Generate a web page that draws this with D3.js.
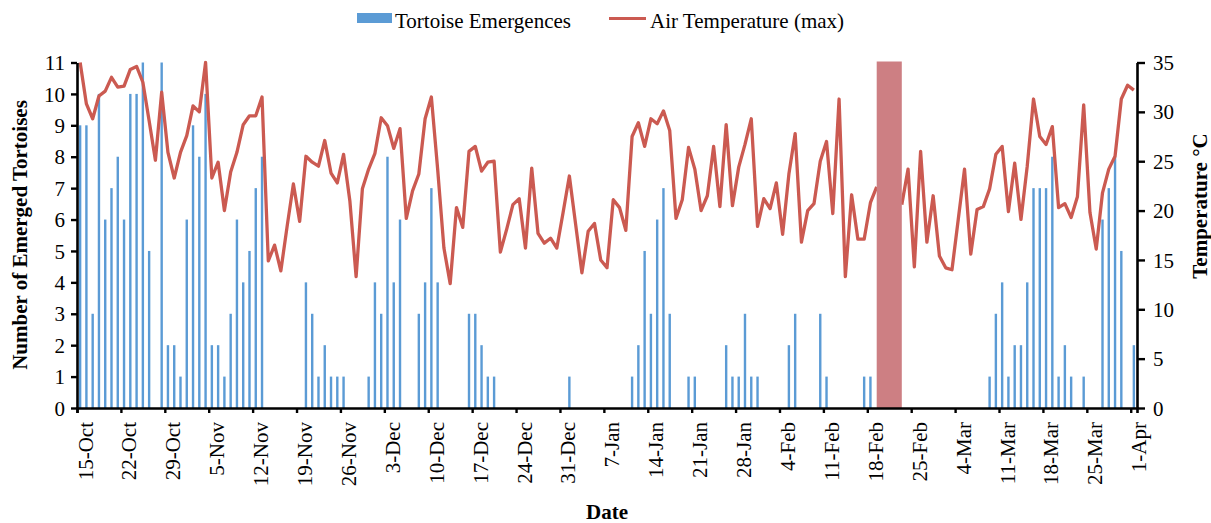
<!DOCTYPE html>
<html>
<head>
<meta charset="utf-8">
<script src="https://cdn.jsdelivr.net/npm/d3@7"></script>
<style>
  html, body { margin: 0; padding: 0; background: #fff; }
  svg { display: block; }
  text { font-family: "Liberation Serif", "Times New Roman", serif; fill: #000; }
</style>
</head>
<body>
<svg id="chart" width="1211" height="523"></svg>
<script>
// ---------------- DATA ----------------
const startDate = "2013-10-15";
const endDate = "2014-04-01";

// Daily number of emerged tortoises (15-Oct .. 1-Apr)
const emergences = [
  9, 9, 3, 10, 6, 7, 8, 6, 10, 10, 11, 5, 0, 11, 2, 2, 1, 6, 9, 8,
  10, 2, 2, 1, 3, 6, 4, 5, 7, 8, 0, 0, 0, 0, 0, 0, 4, 3, 1, 2,
  1, 1, 1, 0, 0, 0, 1, 4, 3, 8, 4, 6, 0, 0, 3, 4, 7, 4, 0, 0,
  0, 0, 3, 3, 2, 1, 1, 0, 0, 0, 0, 0, 0, 0, 0, 0, 0, 0, 1, 0,
  0, 0, 0, 0, 0, 0, 0, 0, 1, 2, 5, 3, 6, 7, 3, 0, 0, 1, 1, 0,
  0, 0, 0, 2, 1, 1, 3, 1, 1, 0, 0, 0, 0, 2, 3, 0, 0, 0, 3, 1,
  0, 0, 0, 0, 0, 1, 1, 0, 0, 0, 0, 0, 0, 0, 0, 0, 0, 0, 0, 0,
  0, 0, 0, 0, 0, 1, 3, 4, 1, 2, 2, 4, 7, 7, 7, 8, 1, 2, 1, 0,
  1, 0, 0, 6, 7, 8, 5, 0, 2
];

// Daily maximum air temperature (°C); null = not visible (hidden by shaded period)
const airTempMax = [
  35.0, 30.8, 29.3, 31.6, 32.1, 33.5, 32.5, 32.6, 34.3, 34.6,
  33.0, 29.1, 25.1, 32.0, 25.9, 23.3, 25.9, 27.6, 30.6, 30.0,
  35.0, 23.3, 24.9, 20.0, 23.9, 25.9, 28.7, 29.6, 29.6, 31.5,
  14.9, 16.5, 13.9, 18.4, 22.7, 18.9, 25.5, 24.9, 24.5, 27.1,
  23.8, 22.8, 25.7, 21.0, 13.3, 22.2, 24.2, 25.8, 29.4, 28.6,
  26.3, 28.3, 19.2, 22.0, 23.7, 29.3, 31.5, 24.2, 16.2, 12.6,
  20.3, 18.3, 26.0, 26.5, 24.0, 24.9, 25.0, 15.8, 18.1, 20.6,
  21.2, 16.2, 24.3, 17.7, 16.7, 17.2, 16.2, 19.8, 23.5, 18.6,
  13.7, 17.9, 18.7, 15.0, 14.2, 21.1, 20.3, 18.0, 27.5, 28.9,
  26.5, 29.3, 28.8, 30.1, 28.1, 19.2, 21.1, 26.4, 24.2, 20.0,
  21.5, 26.5, 20.4, 28.7, 20.5, 24.4, 26.7, 29.3, 18.4, 21.2,
  20.2, 22.8, 17.6, 23.7, 27.8, 16.8, 20.0, 20.7, 25.0, 27.0,
  19.7, 31.3, 13.3, 21.6, 17.1, 17.1, 20.8, 22.4, null, null,
  null, 20.6, 24.2, 14.3, 26.0, 16.8, 21.5, 15.4, 14.2, 14.0,
  19.1, 24.2, 15.6, 20.1, 20.4, 22.2, 25.7, 26.5, 19.9, 24.8,
  19.1, 24.5, 31.3, 27.5, 26.7, 28.5, 20.3, 20.7, 19.3, 21.4,
  30.7, 19.8, 16.1, 21.8, 24.2, 25.5, 31.3, 32.7, 32.2
];

const tickLabels = [
  "15-Oct", "22-Oct", "29-Oct", "5-Nov", "12-Nov", "19-Nov", "26-Nov",
  "3-Dec", "10-Dec", "17-Dec", "24-Dec", "31-Dec", "7-Jan", "14-Jan",
  "21-Jan", "28-Jan", "4-Feb", "11-Feb", "18-Feb", "25-Feb", "4-Mar",
  "11-Mar", "18-Mar", "25-Mar", "1-Apr"
];

const leftTicks = [0, 1, 2, 3, 4, 5, 6, 7, 8, 9, 10, 11];
const rightTicks = [0, 5, 10, 15, 20, 25, 30, 35];

// Shaded period (first and last day)
const shadedPeriod = ["2014-02-19", "2014-02-23"];

const seriesNames = ["Tortoise Emergences", "Air Temperature (max)"];

// ---------------- CHART ----------------
const parse = d3.utcParse("%Y-%m-%d");
const t0 = parse(startDate);
const t1 = parse(endDate);
const days = d3.utcDay.range(t0, d3.utcDay.offset(t1, 1));
const rows = days.map((d, i) => ({ date: d, n: emergences[i], temp: airTempMax[i] }));

const W = 1211, H = 523;
const plot = { left: 77, right: 1137, top: 62.5, bottom: 408 };

const colBar = "#5B9BD5";
const colLine = "#CB5A51";
const colShade = "#CD7F83";

const svg = d3.select("#chart");

const x = d3.scaleUtc()
  .domain([t0, d3.utcDay.offset(t1, 1)])
  .range([plot.left, plot.right]);
const dayW = x(d3.utcDay.offset(t0, 1)) - x(t0);
const xc = d => x(d) + dayW / 2;

const yL = d3.scaleLinear().domain([0, 11]).range([plot.bottom, plot.top]);
const yR = d3.scaleLinear().domain([0, 35]).range([plot.bottom, plot.top]);

// clip
svg.append("defs").append("clipPath").attr("id", "clip")
  .append("rect")
  .attr("x", plot.left).attr("y", plot.top - 2)
  .attr("width", plot.right - plot.left).attr("height", plot.bottom - plot.top + 2);

// bars
const barW = 2.4;
svg.append("g")
  .selectAll("rect")
  .data(rows.filter(r => r.n > 0))
  .join("rect")
  .attr("x", r => xc(r.date) - barW / 2)
  .attr("y", r => yL(r.n))
  .attr("width", barW)
  .attr("height", r => yL(0) - yL(r.n))
  .attr("fill", colBar);

// line
const line = d3.line()
  .defined(r => r.temp !== null)
  .x(r => xc(r.date))
  .y(r => yR(r.temp));
svg.append("path")
  .datum(rows)
  .attr("clip-path", "url(#clip)")
  .attr("d", line)
  .attr("fill", "none")
  .attr("stroke", colLine)
  .attr("stroke-width", 3.3)
  .attr("stroke-linejoin", "round");

// shaded period
const s0 = parse(shadedPeriod[0]), s1 = parse(shadedPeriod[1]);
svg.append("rect")
  .attr("x", xc(s0))
  .attr("y", plot.top - 1)
  .attr("width", xc(s1) - xc(s0))
  .attr("height", plot.bottom - plot.top + 1)
  .attr("fill", colShade);

// axes
const fontSize = 21;
const tickDates = tickLabels.map((_, i) => d3.utcDay.offset(t0, i * 7));

const xAxis = d3.axisBottom(x)
  .tickValues(tickDates)
  .tickFormat((d, i) => tickLabels[i])
  .tickSizeOuter(0)
  .tickSize(5);
const gx = svg.append("g").attr("transform", `translate(0,${plot.bottom})`).call(xAxis);
gx.select(".domain").attr("stroke", "#000").attr("stroke-width", 2.6);
gx.selectAll(".tick line").attr("stroke", "#000").attr("stroke-width", 2.4);
gx.selectAll(".tick text")
  .attr("font-size", fontSize)
  .attr("font-family", "Liberation Serif, serif")
  .attr("text-anchor", "end")
  .attr("transform", "translate(15,14) rotate(-90)")
  .attr("x", 0).attr("y", 0).attr("dy", 0);

const yAxisL = d3.axisLeft(yL).tickValues(leftTicks).tickSize(6).tickSizeOuter(0).tickPadding(6);
const gyl = svg.append("g").attr("transform", `translate(${plot.left},0)`).call(yAxisL);
gyl.select(".domain").attr("stroke", "#000").attr("stroke-width", 2.6);
gyl.selectAll(".tick line").attr("stroke", "#000").attr("stroke-width", 2.4);
gyl.selectAll(".tick text").attr("font-size", fontSize).attr("font-family", "Liberation Serif, serif").attr("dy", "0.34em");

const yAxisR = d3.axisRight(yR).tickValues(rightTicks).tickSize(8).tickSizeOuter(0).tickPadding(8);
const gyr = svg.append("g").attr("transform", `translate(${plot.right},0)`).call(yAxisR);
gyr.select(".domain").attr("stroke", "#000").attr("stroke-width", 2.6);
gyr.selectAll(".tick line").attr("stroke", "#000").attr("stroke-width", 2.4);
gyr.selectAll(".tick text").attr("font-size", fontSize).attr("font-family", "Liberation Serif, serif").attr("dy", "0.34em");

// axis titles
svg.append("text")
  .attr("transform", "translate(27,235) rotate(-90)")
  .attr("text-anchor", "middle")
  .attr("font-size", fontSize)
  .attr("font-weight", "bold")
  .text("Number of Emerged Tortoises");

svg.append("text")
  .attr("transform", "translate(1207,206) rotate(-90)")
  .attr("text-anchor", "middle")
  .attr("font-size", fontSize)
  .attr("font-weight", "bold")
  .text("Temperature °C");

svg.append("text")
  .attr("x", 607).attr("y", 519)
  .attr("text-anchor", "middle")
  .attr("font-size", fontSize)
  .attr("font-weight", "bold")
  .text("Date");

// legend
const lg = svg.append("g");
lg.append("rect").attr("x", 357).attr("y", 13).attr("width", 35).attr("height", 10).attr("fill", colBar);
lg.append("text").attr("x", 395).attr("y", 28).attr("font-size", fontSize).text(seriesNames[0]);
lg.append("line").attr("x1", 609).attr("x2", 646).attr("y1", 18.5).attr("y2", 18.5)
  .attr("stroke", colLine).attr("stroke-width", 3.2);
lg.append("text").attr("x", 650).attr("y", 28).attr("font-size", fontSize).text(seriesNames[1]);
</script>
</body>
</html>
